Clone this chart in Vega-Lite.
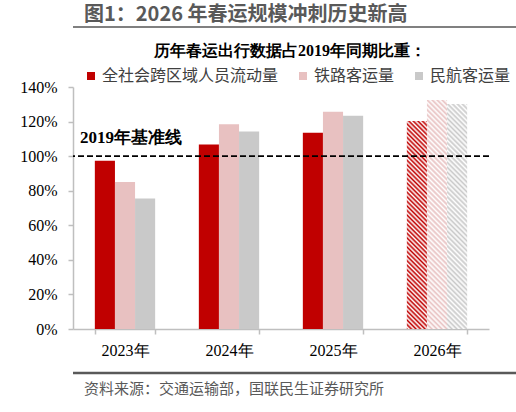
{
  "$schema": "https://vega.github.io/schema/vega-lite/v6.json",
  "background": "white",
  "padding": {"left": 6, "top": 5, "right": 0, "bottom": 0},
  "spacing": 0,
  "resolve": {"scale": {"fill": "independent"}, "legend": {"fill": "independent"}},
  "config": {"view": {"stroke": null}, "font": "Noto Sans CJK SC", "axisY": {"labelOverlap": false}, "axis": {"labelOverlap": false}},
  "vconcat": [
    {
      "data": {"values": [{"v": 1}]},
      "width": 504,
      "height": 16,
      "title": {"text": "图1：2026 年春运规模冲刺历史新高", "anchor": "start", "frame": "group", "font": "Noto Sans CJK SC", "fontSize": 20, "fontWeight": "bold", "color": "#595959", "offset": 1, "dx": 11},
      "mark": {"type": "rule", "color": "#808080", "strokeWidth": 2},
      "encoding": {"y": {"field": "v", "type": "quantitative", "axis": null, "scale": {"domain": [0, 1]}}}
    },
    {
      "width": 416,
      "height": 242,
      "title": {"text": "历年春运出行数据占2019年同期比重：", "font": "Liberation Serif", "fontSize": 16, "fontWeight": "bold", "color": "#000000", "anchor": "middle", "frame": "group", "dx": 9, "offset": 9},
      "layer": [
        {
          "data": {"values": [
            {"year": "2023年", "s": "全社会跨区域人员流动量", "value": 97.4},
            {"year": "2023年", "s": "铁路客运量", "value": 85.0},
            {"year": "2023年", "s": "民航客运量", "value": 75.5},
            {"year": "2024年", "s": "全社会跨区域人员流动量", "value": 106.7},
            {"year": "2024年", "s": "铁路客运量", "value": 118.5},
            {"year": "2024年", "s": "民航客运量", "value": 114.2},
            {"year": "2025年", "s": "全社会跨区域人员流动量", "value": 113.6},
            {"year": "2025年", "s": "铁路客运量", "value": 125.7},
            {"year": "2025年", "s": "民航客运量", "value": 123.4},
            {"year": "2026年", "s": "全社会跨区域人员流动量", "value": 120.3},
            {"year": "2026年", "s": "铁路客运量", "value": 132.5},
            {"year": "2026年", "s": "民航客运量", "value": 130.2}
          ]},
          "mark": {"type": "bar"},
          "encoding": {
            "x": {"field": "year", "type": "nominal", "title": null, "scale": {"paddingInner": 0.42, "paddingOuter": 0.21},
              "axis": {"labelAngle": 0, "labelFont": "Liberation Serif", "labelFontSize": 16, "labelColor": "#000000", "domainColor": "#BFBFBF", "domainWidth": 1.5, "tickColor": "#BFBFBF", "tickSize": 5, "tickWidth": 1.5, "tickBand": "extent", "labelPadding": 8, "minExtent": 42}},
            "xOffset": {"field": "s", "type": "nominal", "sort": ["全社会跨区域人员流动量", "铁路客运量", "民航客运量"]},
            "y": {"field": "value", "type": "quantitative", "title": null, "scale": {"domain": [0, 140], "nice": false},
              "axis": {"values": [0, 20, 40, 60, 80, 100, 120, 140], "labelExpr": "datum.value + '%'", "labelOverlap": false, "grid": false, "labelFont": "Liberation Serif", "labelFontSize": 16, "labelColor": "#000000", "domainColor": "#BFBFBF", "domainWidth": 1.5, "tickColor": "#BFBFBF", "tickSize": 5, "tickWidth": 1.5, "labelPadding": 11, "minExtent": 67}},
            "fill": {
              "field": "s", "type": "nominal",
              "scale": {"domain": ["全社会跨区域人员流动量", "铁路客运量", "民航客运量"], "range": ["#C00000", "#E8C1C1", "#C9C9C9"]},
              "legend": {"orient": "top", "offset": 3, "direction": "horizontal", "title": null, "symbolType": "square", "symbolSize": 64, "symbolStrokeWidth": 0, "symbolOffset": 10, "labelFont": "Noto Sans CJK SC", "labelFontSize": 16, "labelLimit": 400, "labelColor": "#404040", "columnPadding": 6, "labelOffset": 3},
              "condition": [
                {"test": "datum.year === '2026年' && datum.s === '全社会跨区域人员流动量'", "value": {"gradient": "linear", "x1": 0, "y1": 1, "x2": 0.105, "y2": -0.087, "stops": [
{"offset":0,"color":"#c00000"},{"offset":0.01,"color":"#fff"},{"offset":0.02,"color":"#c00000"},{"offset":0.03,"color":"#fff"},{"offset":0.04,"color":"#c00000"},{"offset":0.05,"color":"#fff"},{"offset":0.06,"color":"#c00000"},{"offset":0.07,"color":"#fff"},{"offset":0.08,"color":"#c00000"},{"offset":0.09,"color":"#fff"},
{"offset":0.1,"color":"#c00000"},{"offset":0.11,"color":"#fff"},{"offset":0.12,"color":"#c00000"},{"offset":0.13,"color":"#fff"},{"offset":0.14,"color":"#c00000"},{"offset":0.15,"color":"#fff"},{"offset":0.16,"color":"#c00000"},{"offset":0.17,"color":"#fff"},{"offset":0.18,"color":"#c00000"},{"offset":0.19,"color":"#fff"},
{"offset":0.2,"color":"#c00000"},{"offset":0.21,"color":"#fff"},{"offset":0.22,"color":"#c00000"},{"offset":0.23,"color":"#fff"},{"offset":0.24,"color":"#c00000"},{"offset":0.25,"color":"#fff"},{"offset":0.26,"color":"#c00000"},{"offset":0.27,"color":"#fff"},{"offset":0.28,"color":"#c00000"},{"offset":0.29,"color":"#fff"},
{"offset":0.3,"color":"#c00000"},{"offset":0.31,"color":"#fff"},{"offset":0.32,"color":"#c00000"},{"offset":0.33,"color":"#fff"},{"offset":0.34,"color":"#c00000"},{"offset":0.35,"color":"#fff"},{"offset":0.36,"color":"#c00000"},{"offset":0.37,"color":"#fff"},{"offset":0.38,"color":"#c00000"},{"offset":0.39,"color":"#fff"},
{"offset":0.4,"color":"#c00000"},{"offset":0.41,"color":"#fff"},{"offset":0.42,"color":"#c00000"},{"offset":0.43,"color":"#fff"},{"offset":0.44,"color":"#c00000"},{"offset":0.45,"color":"#fff"},{"offset":0.46,"color":"#c00000"},{"offset":0.47,"color":"#fff"},{"offset":0.48,"color":"#c00000"},{"offset":0.49,"color":"#fff"},
{"offset":0.5,"color":"#c00000"},{"offset":0.51,"color":"#fff"},{"offset":0.52,"color":"#c00000"},{"offset":0.53,"color":"#fff"},{"offset":0.54,"color":"#c00000"},{"offset":0.55,"color":"#fff"},{"offset":0.56,"color":"#c00000"},{"offset":0.57,"color":"#fff"},{"offset":0.58,"color":"#c00000"},{"offset":0.59,"color":"#fff"},
{"offset":0.6,"color":"#c00000"},{"offset":0.61,"color":"#fff"},{"offset":0.62,"color":"#c00000"},{"offset":0.63,"color":"#fff"},{"offset":0.64,"color":"#c00000"},{"offset":0.65,"color":"#fff"},{"offset":0.66,"color":"#c00000"},{"offset":0.67,"color":"#fff"},{"offset":0.68,"color":"#c00000"},{"offset":0.69,"color":"#fff"},
{"offset":0.7,"color":"#c00000"},{"offset":0.71,"color":"#fff"},{"offset":0.72,"color":"#c00000"},{"offset":0.73,"color":"#fff"},{"offset":0.74,"color":"#c00000"},{"offset":0.75,"color":"#fff"},{"offset":0.76,"color":"#c00000"},{"offset":0.77,"color":"#fff"},{"offset":0.78,"color":"#c00000"},{"offset":0.79,"color":"#fff"},
{"offset":0.8,"color":"#c00000"},{"offset":0.81,"color":"#fff"},{"offset":0.82,"color":"#c00000"},{"offset":0.83,"color":"#fff"},{"offset":0.84,"color":"#c00000"},{"offset":0.85,"color":"#fff"},{"offset":0.86,"color":"#c00000"},{"offset":0.87,"color":"#fff"},{"offset":0.88,"color":"#c00000"},{"offset":0.89,"color":"#fff"},
{"offset":0.9,"color":"#c00000"},{"offset":0.91,"color":"#fff"},{"offset":0.92,"color":"#c00000"},{"offset":0.93,"color":"#fff"},{"offset":0.94,"color":"#c00000"},{"offset":0.95,"color":"#fff"},{"offset":0.96,"color":"#c00000"},{"offset":0.97,"color":"#fff"},{"offset":0.98,"color":"#c00000"},{"offset":0.99,"color":"#fff"},
{"offset":1,"color":"#c00000"}]}},
                {"test": "datum.year === '2026年' && datum.s === '铁路客运量'", "value": {"gradient": "linear", "x1": 0, "y1": 1, "x2": 0.095, "y2": -0.080, "stops": [
{"offset":0,"color":"#e8c1c1"},{"offset":0.01,"color":"#fff"},{"offset":0.02,"color":"#e8c1c1"},{"offset":0.03,"color":"#fff"},{"offset":0.04,"color":"#e8c1c1"},{"offset":0.05,"color":"#fff"},{"offset":0.06,"color":"#e8c1c1"},{"offset":0.07,"color":"#fff"},{"offset":0.08,"color":"#e8c1c1"},{"offset":0.09,"color":"#fff"},
{"offset":0.1,"color":"#e8c1c1"},{"offset":0.11,"color":"#fff"},{"offset":0.12,"color":"#e8c1c1"},{"offset":0.13,"color":"#fff"},{"offset":0.14,"color":"#e8c1c1"},{"offset":0.15,"color":"#fff"},{"offset":0.16,"color":"#e8c1c1"},{"offset":0.17,"color":"#fff"},{"offset":0.18,"color":"#e8c1c1"},{"offset":0.19,"color":"#fff"},
{"offset":0.2,"color":"#e8c1c1"},{"offset":0.21,"color":"#fff"},{"offset":0.22,"color":"#e8c1c1"},{"offset":0.23,"color":"#fff"},{"offset":0.24,"color":"#e8c1c1"},{"offset":0.25,"color":"#fff"},{"offset":0.26,"color":"#e8c1c1"},{"offset":0.27,"color":"#fff"},{"offset":0.28,"color":"#e8c1c1"},{"offset":0.29,"color":"#fff"},
{"offset":0.3,"color":"#e8c1c1"},{"offset":0.31,"color":"#fff"},{"offset":0.32,"color":"#e8c1c1"},{"offset":0.33,"color":"#fff"},{"offset":0.34,"color":"#e8c1c1"},{"offset":0.35,"color":"#fff"},{"offset":0.36,"color":"#e8c1c1"},{"offset":0.37,"color":"#fff"},{"offset":0.38,"color":"#e8c1c1"},{"offset":0.39,"color":"#fff"},
{"offset":0.4,"color":"#e8c1c1"},{"offset":0.41,"color":"#fff"},{"offset":0.42,"color":"#e8c1c1"},{"offset":0.43,"color":"#fff"},{"offset":0.44,"color":"#e8c1c1"},{"offset":0.45,"color":"#fff"},{"offset":0.46,"color":"#e8c1c1"},{"offset":0.47,"color":"#fff"},{"offset":0.48,"color":"#e8c1c1"},{"offset":0.49,"color":"#fff"},
{"offset":0.5,"color":"#e8c1c1"},{"offset":0.51,"color":"#fff"},{"offset":0.52,"color":"#e8c1c1"},{"offset":0.53,"color":"#fff"},{"offset":0.54,"color":"#e8c1c1"},{"offset":0.55,"color":"#fff"},{"offset":0.56,"color":"#e8c1c1"},{"offset":0.57,"color":"#fff"},{"offset":0.58,"color":"#e8c1c1"},{"offset":0.59,"color":"#fff"},
{"offset":0.6,"color":"#e8c1c1"},{"offset":0.61,"color":"#fff"},{"offset":0.62,"color":"#e8c1c1"},{"offset":0.63,"color":"#fff"},{"offset":0.64,"color":"#e8c1c1"},{"offset":0.65,"color":"#fff"},{"offset":0.66,"color":"#e8c1c1"},{"offset":0.67,"color":"#fff"},{"offset":0.68,"color":"#e8c1c1"},{"offset":0.69,"color":"#fff"},
{"offset":0.7,"color":"#e8c1c1"},{"offset":0.71,"color":"#fff"},{"offset":0.72,"color":"#e8c1c1"},{"offset":0.73,"color":"#fff"},{"offset":0.74,"color":"#e8c1c1"},{"offset":0.75,"color":"#fff"},{"offset":0.76,"color":"#e8c1c1"},{"offset":0.77,"color":"#fff"},{"offset":0.78,"color":"#e8c1c1"},{"offset":0.79,"color":"#fff"},
{"offset":0.8,"color":"#e8c1c1"},{"offset":0.81,"color":"#fff"},{"offset":0.82,"color":"#e8c1c1"},{"offset":0.83,"color":"#fff"},{"offset":0.84,"color":"#e8c1c1"},{"offset":0.85,"color":"#fff"},{"offset":0.86,"color":"#e8c1c1"},{"offset":0.87,"color":"#fff"},{"offset":0.88,"color":"#e8c1c1"},{"offset":0.89,"color":"#fff"},
{"offset":0.9,"color":"#e8c1c1"},{"offset":0.91,"color":"#fff"},{"offset":0.92,"color":"#e8c1c1"},{"offset":0.93,"color":"#fff"},{"offset":0.94,"color":"#e8c1c1"},{"offset":0.95,"color":"#fff"},{"offset":0.96,"color":"#e8c1c1"},{"offset":0.97,"color":"#fff"},{"offset":0.98,"color":"#e8c1c1"},{"offset":0.99,"color":"#fff"},
{"offset":1,"color":"#e8c1c1"}]}},
                {"test": "datum.year === '2026年' && datum.s === '民航客运量'", "value": {"gradient": "linear", "x1": 0, "y1": 1, "x2": 0.0965, "y2": -0.081, "stops": [
{"offset":0,"color":"#c9c9c9"},{"offset":0.01,"color":"#fff"},{"offset":0.02,"color":"#c9c9c9"},{"offset":0.03,"color":"#fff"},{"offset":0.04,"color":"#c9c9c9"},{"offset":0.05,"color":"#fff"},{"offset":0.06,"color":"#c9c9c9"},{"offset":0.07,"color":"#fff"},{"offset":0.08,"color":"#c9c9c9"},{"offset":0.09,"color":"#fff"},
{"offset":0.1,"color":"#c9c9c9"},{"offset":0.11,"color":"#fff"},{"offset":0.12,"color":"#c9c9c9"},{"offset":0.13,"color":"#fff"},{"offset":0.14,"color":"#c9c9c9"},{"offset":0.15,"color":"#fff"},{"offset":0.16,"color":"#c9c9c9"},{"offset":0.17,"color":"#fff"},{"offset":0.18,"color":"#c9c9c9"},{"offset":0.19,"color":"#fff"},
{"offset":0.2,"color":"#c9c9c9"},{"offset":0.21,"color":"#fff"},{"offset":0.22,"color":"#c9c9c9"},{"offset":0.23,"color":"#fff"},{"offset":0.24,"color":"#c9c9c9"},{"offset":0.25,"color":"#fff"},{"offset":0.26,"color":"#c9c9c9"},{"offset":0.27,"color":"#fff"},{"offset":0.28,"color":"#c9c9c9"},{"offset":0.29,"color":"#fff"},
{"offset":0.3,"color":"#c9c9c9"},{"offset":0.31,"color":"#fff"},{"offset":0.32,"color":"#c9c9c9"},{"offset":0.33,"color":"#fff"},{"offset":0.34,"color":"#c9c9c9"},{"offset":0.35,"color":"#fff"},{"offset":0.36,"color":"#c9c9c9"},{"offset":0.37,"color":"#fff"},{"offset":0.38,"color":"#c9c9c9"},{"offset":0.39,"color":"#fff"},
{"offset":0.4,"color":"#c9c9c9"},{"offset":0.41,"color":"#fff"},{"offset":0.42,"color":"#c9c9c9"},{"offset":0.43,"color":"#fff"},{"offset":0.44,"color":"#c9c9c9"},{"offset":0.45,"color":"#fff"},{"offset":0.46,"color":"#c9c9c9"},{"offset":0.47,"color":"#fff"},{"offset":0.48,"color":"#c9c9c9"},{"offset":0.49,"color":"#fff"},
{"offset":0.5,"color":"#c9c9c9"},{"offset":0.51,"color":"#fff"},{"offset":0.52,"color":"#c9c9c9"},{"offset":0.53,"color":"#fff"},{"offset":0.54,"color":"#c9c9c9"},{"offset":0.55,"color":"#fff"},{"offset":0.56,"color":"#c9c9c9"},{"offset":0.57,"color":"#fff"},{"offset":0.58,"color":"#c9c9c9"},{"offset":0.59,"color":"#fff"},
{"offset":0.6,"color":"#c9c9c9"},{"offset":0.61,"color":"#fff"},{"offset":0.62,"color":"#c9c9c9"},{"offset":0.63,"color":"#fff"},{"offset":0.64,"color":"#c9c9c9"},{"offset":0.65,"color":"#fff"},{"offset":0.66,"color":"#c9c9c9"},{"offset":0.67,"color":"#fff"},{"offset":0.68,"color":"#c9c9c9"},{"offset":0.69,"color":"#fff"},
{"offset":0.7,"color":"#c9c9c9"},{"offset":0.71,"color":"#fff"},{"offset":0.72,"color":"#c9c9c9"},{"offset":0.73,"color":"#fff"},{"offset":0.74,"color":"#c9c9c9"},{"offset":0.75,"color":"#fff"},{"offset":0.76,"color":"#c9c9c9"},{"offset":0.77,"color":"#fff"},{"offset":0.78,"color":"#c9c9c9"},{"offset":0.79,"color":"#fff"},
{"offset":0.8,"color":"#c9c9c9"},{"offset":0.81,"color":"#fff"},{"offset":0.82,"color":"#c9c9c9"},{"offset":0.83,"color":"#fff"},{"offset":0.84,"color":"#c9c9c9"},{"offset":0.85,"color":"#fff"},{"offset":0.86,"color":"#c9c9c9"},{"offset":0.87,"color":"#fff"},{"offset":0.88,"color":"#c9c9c9"},{"offset":0.89,"color":"#fff"},
{"offset":0.9,"color":"#c9c9c9"},{"offset":0.91,"color":"#fff"},{"offset":0.92,"color":"#c9c9c9"},{"offset":0.93,"color":"#fff"},{"offset":0.94,"color":"#c9c9c9"},{"offset":0.95,"color":"#fff"},{"offset":0.96,"color":"#c9c9c9"},{"offset":0.97,"color":"#fff"},{"offset":0.98,"color":"#c9c9c9"},{"offset":0.99,"color":"#fff"},
{"offset":1,"color":"#c9c9c9"}]}}
              ]
            }
          }
        },
        {
          "data": {"values": [{"base": 100, "label": "2019年基准线"}]},
          "mark": {"type": "rule", "color": "#000000", "strokeDash": [6, 3], "strokeWidth": 1.8},
          "encoding": {"y": {"field": "base", "type": "quantitative", "title": null,
            "axis": {"values": [0, 20, 40, 60, 80, 100, 120, 140], "labelExpr": "datum.value + '%'", "labelOverlap": false, "grid": false, "labelFont": "Liberation Serif", "labelFontSize": 16, "labelColor": "#000000", "domainColor": "#BFBFBF", "domainWidth": 1.5, "tickColor": "#BFBFBF", "tickSize": 5, "tickWidth": 1.5, "labelPadding": 11, "minExtent": 67}}}
        },
        {
          "data": {"values": [{"base": 100, "label": "2019年基准线"}]},
          "mark": {"type": "text", "font": "Liberation Serif", "fontSize": 17, "fontWeight": "bold", "color": "#000000", "dy": -18, "dx": 6},
          "encoding": {
            "x": {"datum": "2023年", "type": "nominal", "title": null},
            "y": {"field": "base", "type": "quantitative", "title": null,
              "axis": {"values": [0, 20, 40, 60, 80, 100, 120, 140], "labelExpr": "datum.value + '%'", "labelOverlap": false, "grid": false, "labelFont": "Liberation Serif", "labelFontSize": 16, "labelColor": "#000000", "domainColor": "#BFBFBF", "domainWidth": 1.5, "tickColor": "#BFBFBF", "tickSize": 5, "tickWidth": 1.5, "labelPadding": 11, "minExtent": 67}},
            "text": {"field": "label"}
          }
        }
      ]
    },
    {
      "data": {"values": [{"v": 1}]},
      "width": 504,
      "height": 1,
      "title": {"text": "资料来源：交通运输部，国联民生证券研究所", "orient": "bottom", "anchor": "start", "frame": "group", "font": "Noto Sans CJK SC", "fontSize": 15, "fontWeight": "normal", "color": "#595959", "offset": 8, "dx": 11},
      "mark": {"type": "rule", "color": "#595959", "strokeWidth": 2.5},
      "encoding": {"y": {"field": "v", "type": "quantitative", "axis": null, "scale": {"domain": [0, 1]}}}
    }
  ]
}
